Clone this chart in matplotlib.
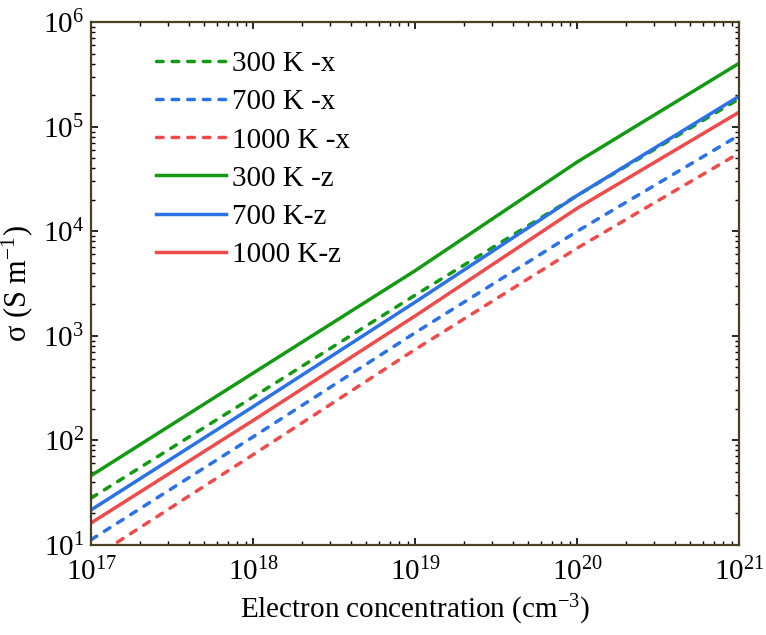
import matplotlib
matplotlib.use("Agg")
import matplotlib.pyplot as plt
import numpy as np

plt.rcParams['font.family'] = ['Liberation Serif', 'DejaVu Serif']
plt.rcParams['mathtext.fontset'] = 'custom'
plt.rcParams['mathtext.rm'] = 'Liberation Serif'
plt.rcParams['mathtext.it'] = 'Liberation Serif:italic'

conc = [1e17, 1e18, 1e19, 1e20, 1e21]
s300x = [28, 260, 2.45e3, 2.2e4, 1.85e5]
s700x = [11.2, 108, 1.07e3, 1.0e4, 8.3e4]
s1000x = [7.3, 73, 740, 6.9e3, 5.6e4]
s300z = [46, 440, 4.2e3, 4.6e4, 4.05e5]
s700z = [21.6, 210, 2.1e3, 2.2e4, 1.96e5]
s1000z = [16.2, 155, 1.55e3, 1.66e4, 1.38e5]

green = '#139a13'
blue = '#2a72e6'
red = '#f04b4b'

fig = plt.figure(figsize=(7.66, 6.35), dpi=100)
ax = fig.add_axes([0.119, 0.142, 0.846, 0.823])

lw = 2.5
dash = (0, (1.9, 2.6))
kw_d = dict(lw=lw, ls=dash, dash_capstyle='round')
ax.plot(conc, s300x, color=green, label='300 K -x', **kw_d)
ax.plot(conc, s700x, color=blue, label='700 K -x', **kw_d)
ax.plot(conc, s1000x, color=red, label='1000 K -x', **kw_d)
ax.plot(conc, s300z, color=green, lw=lw, label='300 K -z')
ax.plot(conc, s700z, color=blue, lw=lw, label='700 K-z')
ax.plot(conc, s1000z, color=red, lw=lw, label='1000 K-z')

ax.set_xscale('log')
ax.set_yscale('log')
ax.set_xlim(1e17, 1e21)
ax.set_ylim(1e1, 1e6)

frame = '#4a3f1e'
for sp in ax.spines.values():
    sp.set_color(frame)
    sp.set_linewidth(1.6)

ax.tick_params(which='both', direction='in', top=True, right=True, colors='black', labelsize=21)
ax.tick_params(which='major', length=5, width=1.2)
ax.tick_params(which='minor', length=3, width=1.0)
ax.tick_params(axis='x', which='major', pad=9)
ax.tick_params(axis='y', which='major', pad=5)

ax.set_xlabel('Electron concentration (cm$^{-3}$)', fontsize=21, labelpad=5)
ax.set_ylabel('σ (S m$^{-1}$)', fontsize=22, labelpad=6)

leg = ax.legend(loc='upper left', bbox_to_anchor=(0.100, 0.945), frameon=False, fontsize=21,
                handlelength=2.4, handletextpad=0.2, labelspacing=0.4,
                borderpad=0, borderaxespad=0)

fig.savefig('out.png', dpi=100)
